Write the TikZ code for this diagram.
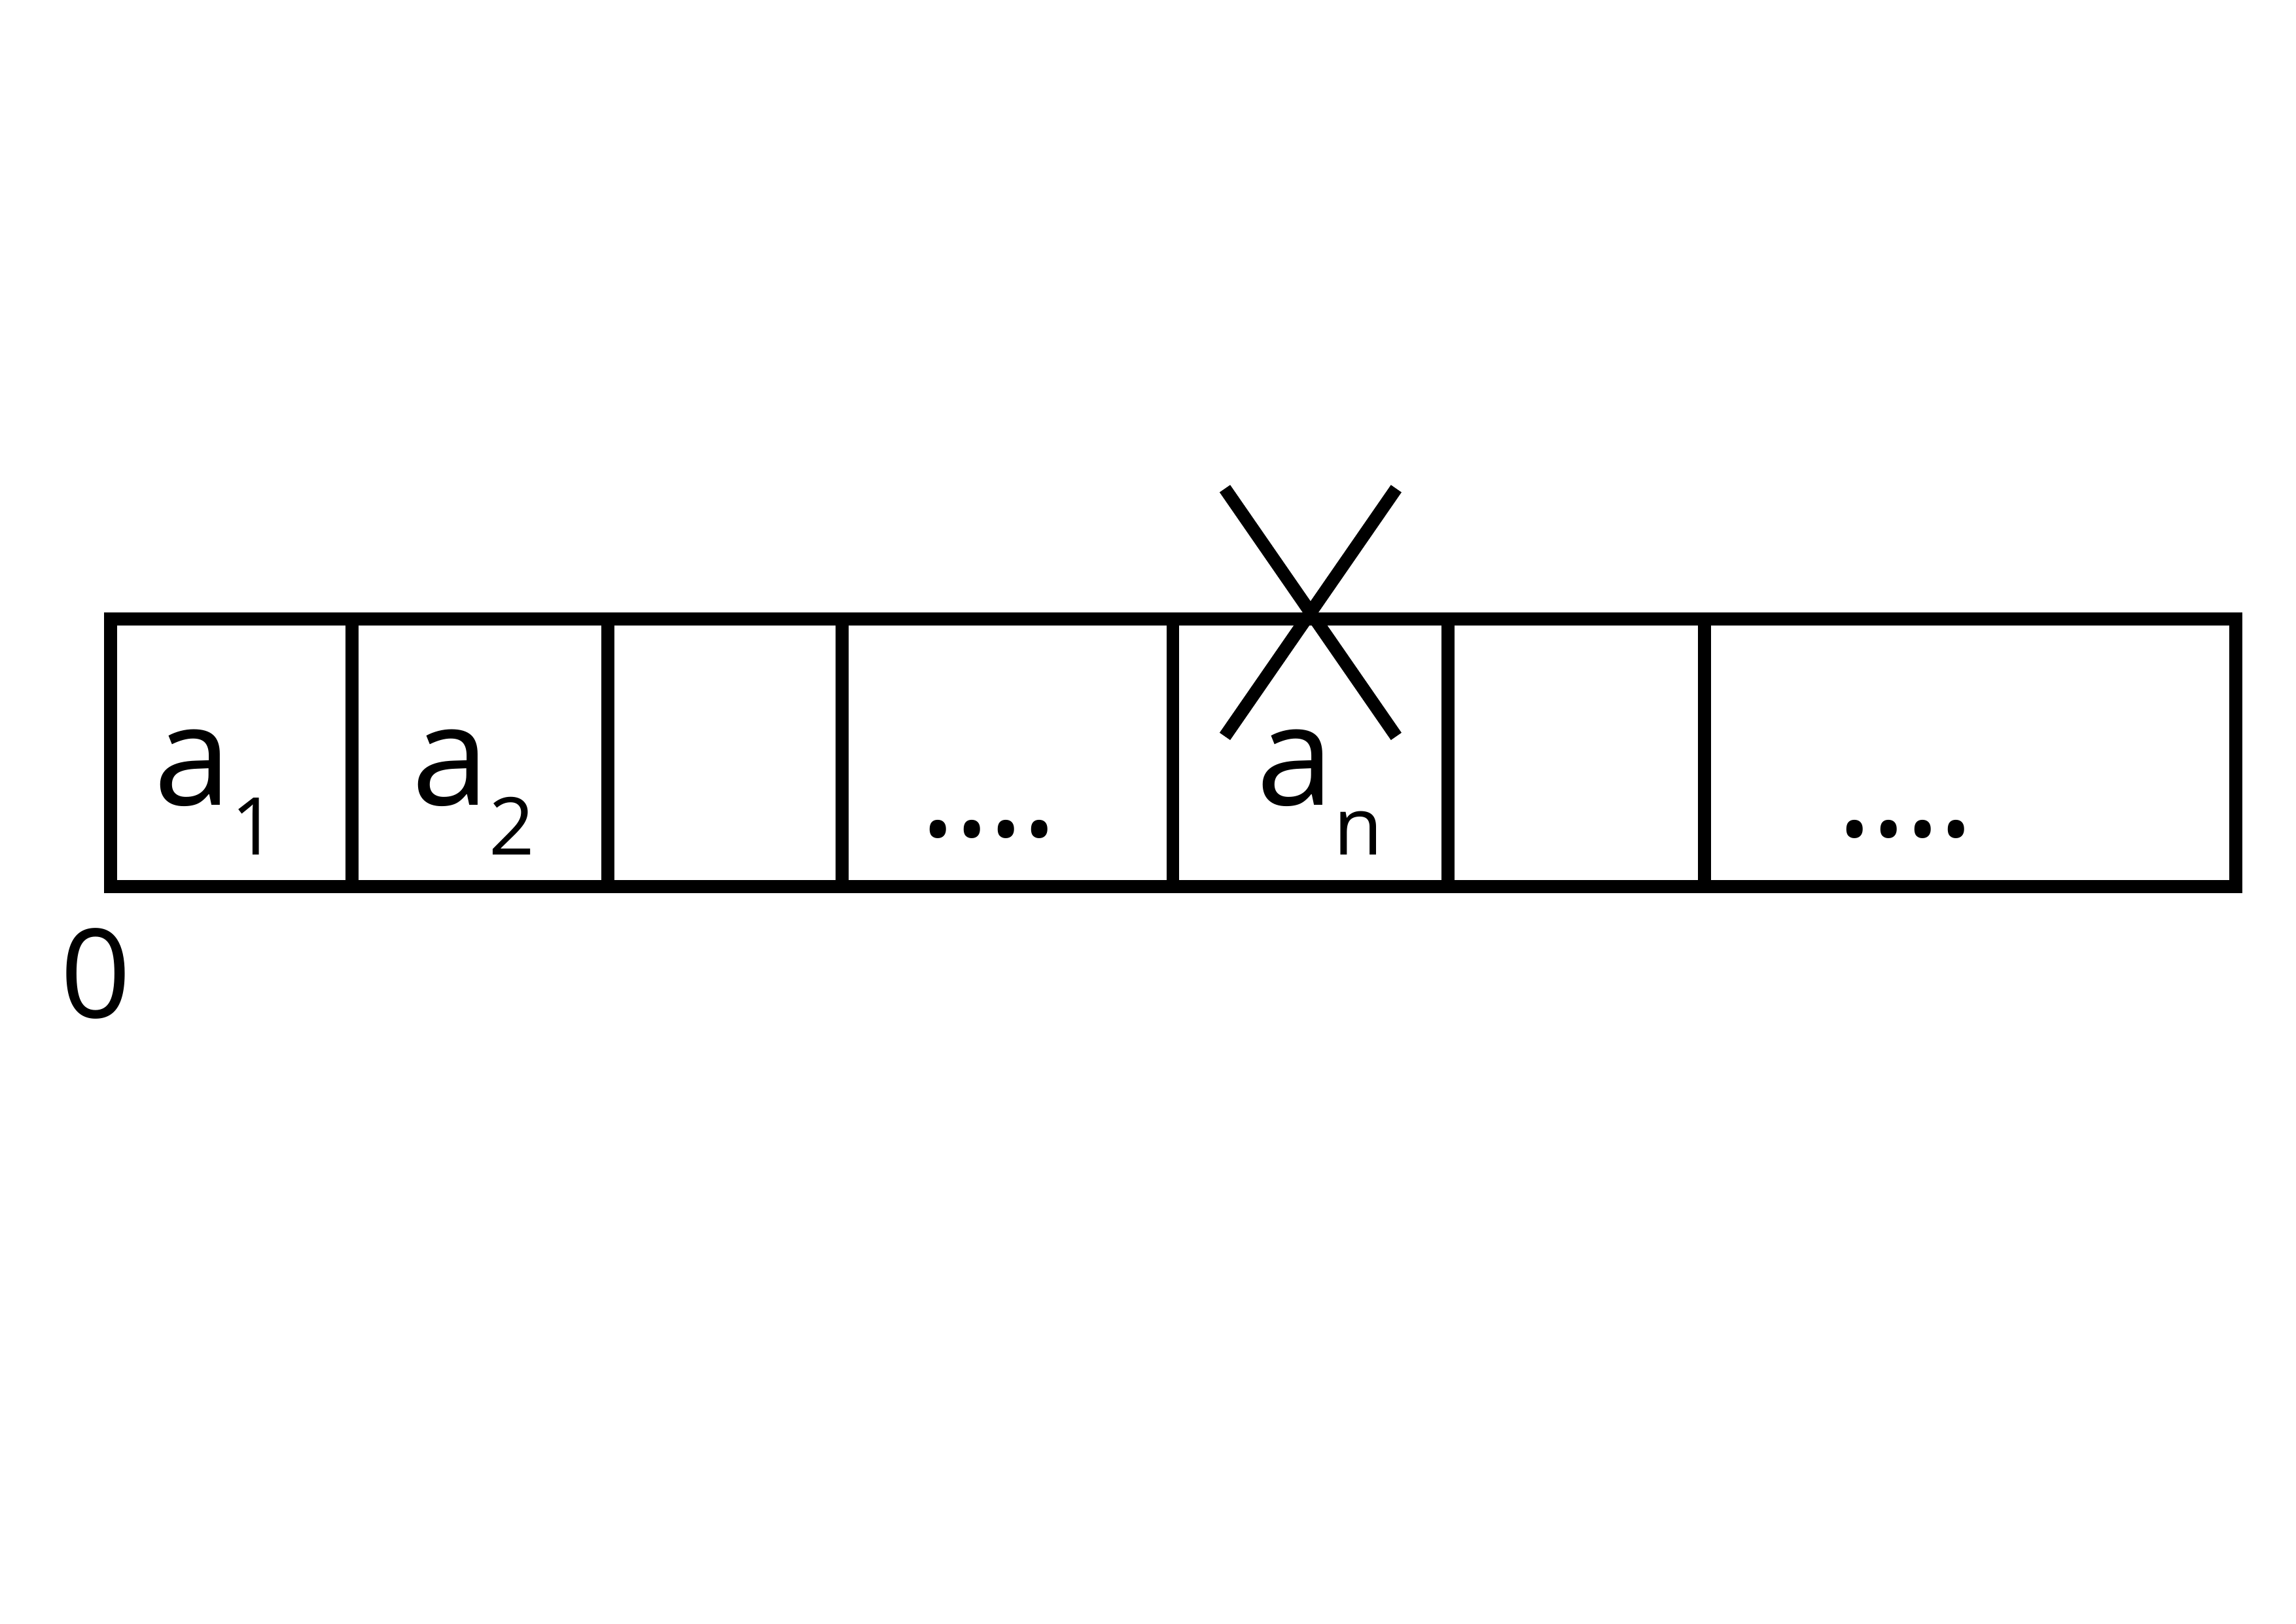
\documentclass[tikz,border=0pt]{standalone}
\usepackage{fontspec}
\setmainfont{Open Sans}
\usetikzlibrary{positioning}
\newcommand{\tapelabel}[2]{#1\raisebox{-0.34cm}{\fontsize{15.5}{18}\selectfont #2}}
\newcommand{\tapedots}{.\kern-0.022cm.\kern-0.022cm.\kern-0.022cm.}

\begin{document}
\begin{tikzpicture}[
  cell/.style={draw, line width=2.5pt, rectangle, inner sep=0pt, minimum height=1.827cm},
  crossline/.style={line width=2.5pt},
  cellfont/.style={font=\fontsize{27}{30}\selectfont, inner sep=0pt, anchor=base west},
  zerofont/.style={font=\fontsize{24}{28}\selectfont, inner sep=0pt, anchor=base west}
]
  \useasboundingbox (-0.755,-5.036) rectangle (14.925,6.054);
  % ---------- the tape ----------
  \foreach \i/\l/\r in {1/0/1.648, 2/1.648/3.395, 3/3.395/4.995, 4/4.995/7.255,
                        5/7.255/9.135, 6/9.135/10.885, 7/10.885/14.515} {
    \node[cell, minimum width={(\r-\l)*1cm}] (c\i) at ({(\l+\r)/2}, 0.9135) {};
  }
  % ---------- head mark over cell n ----------
  \coordinate (x1) at ([shift={(-0.585,0.846)}]c5.north);
  \coordinate (x2) at ([shift={(0.585,0.846)}]c5.north);
  \coordinate (x3) at ([shift={(-0.585,-0.846)}]c5.north);
  \coordinate (x4) at ([shift={(0.585,-0.846)}]c5.north);
  \draw[crossline] (x1) -- (x4);
  \draw[crossline] (x2) -- (x3);
  % ---------- contents ----------
  \node[cellfont] (l1) at (0.29, 0.554) {\tapelabel{a}{1}};
  \node[cellfont] (l2) at (2.05, 0.554) {\tapelabel{a}{2}};
  \node[cellfont] (dots1) at (5.52, 0.339) {\tapedots};
  \node[cellfont] (ln) at (7.82, 0.554) {\tapelabel{a}{n}};
  \node[cellfont] (dots2) at (11.78, 0.339) {\tapedots};
  \node[zerofont] (zero) at (-0.35, -0.896) {0};
\end{tikzpicture}
\end{document}
